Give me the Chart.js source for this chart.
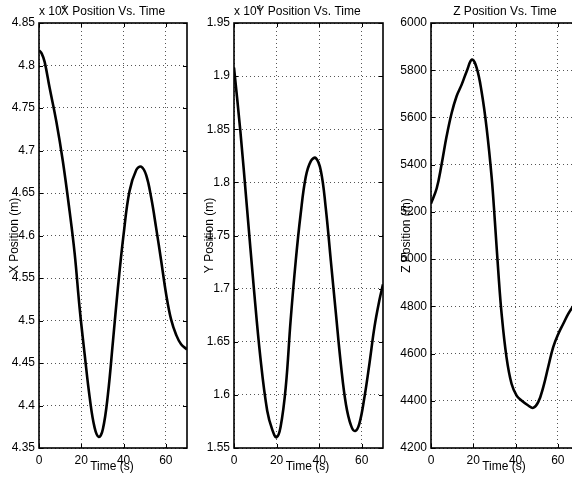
<!DOCTYPE html>
<html><head><meta charset="utf-8">
<script src="https://cdn.jsdelivr.net/npm/chart.js@4/dist/chart.umd.min.js"></script>
<style>
html,body{margin:0;padding:0;background:#fff;overflow:hidden;width:572px;height:477px;position:relative;}
.p{position:absolute;top:0;width:190px;height:477px;}
canvas{display:block;}
</style></head><body>
<div class="p" style="left:0px"><canvas id="c1" width="190" height="477"></canvas></div>
<div class="p" style="left:195px"><canvas id="c2" width="190" height="477"></canvas></div>
<div class="p" style="left:392px"><canvas id="c3" width="190" height="477"></canvas></div>
<script>
// ---- data ----
const xTimes = [0, 1.3, 2.7, 5, 8.2, 11.3, 14.5, 16.9, 19.2, 21.6, 24, 26.3, 28.3, 30.2, 32.6, 35, 37.3, 40, 42.8, 46, 48.3, 50.7, 53.1, 55.4, 57.8, 60.2, 62.5, 64.9, 67.2, 70];
const xPositions = [48180, 48140, 48040, 47740, 47340, 46870, 46280, 45780, 45150, 44600, 44090, 43740, 43630, 43720, 44130, 44760, 45380, 46010, 46520, 46770, 46810, 46710, 46440, 46090, 45700, 45300, 45010, 44830, 44720, 44660];

const yTimes = [0, 3, 6.1, 9.3, 12.4, 15.6, 18, 20, 21.9, 24.3, 26.6, 29, 31.3, 33.7, 36.1, 38.4, 40.8, 43.1, 45.5, 47.9, 50.2, 52.6, 55, 56.9, 58.9, 61.3, 63.6, 66, 68.3, 70];
const yPositions = [19080, 18480, 17760, 17010, 16350, 15850, 15670, 15600, 15700, 16070, 16700, 17260, 17700, 18050, 18200, 18230, 18110, 17760, 17260, 16760, 16290, 15910, 15710, 15660, 15730, 15980, 16290, 16640, 16890, 17040];

const zTimes = [0, 2.7, 5, 7.4, 9.8, 12.1, 14.5, 16.9, 19.4, 21.6, 23.9, 26.3, 28.7, 30.2, 31.8, 33.4, 35.7, 38.1, 40.5, 42.8, 46, 48.3, 50.7, 53.1, 55.4, 57.8, 60.2, 62.5, 64.9, 67.2, 70];
const zPositions = [5235, 5300, 5401, 5521, 5620, 5690, 5739, 5796, 5845, 5810, 5711, 5556, 5345, 5162, 4951, 4768, 4585, 4472, 4422, 4401, 4380, 4370, 4394, 4458, 4542, 4627, 4683, 4725, 4768, 4800, 4835];

const timeRange = [0, 70];
const timeStep = 20;
const xRange = [43500, 48500];
const yRange = [15500, 19500];
const zRange = [4200, 6000];
const titles = ['X Position Vs. Time', 'Y Position Vs. Time', 'Z Position Vs. Time'];
const yLabels = ['X Position (m)', 'Y Position (m)', 'Z Position (m)'];
const xLabel = 'Time (s)';
const exponentBase = 'x 10';
const exponentPower = '4';

const FONT = '"Liberation Sans", Arial, Helvetica, sans-serif';

const decorPlugin = {
  id: 'decor',
  afterDraw(chart, args, opts) {
    const ctx = chart.ctx, ca = chart.chartArea;
    const xs = chart.scales.x, ys = chart.scales.y;
    ctx.save();
    ctx.strokeStyle = '#000';
    ctx.lineWidth = 1;
    ctx.beginPath();
    xs.ticks.forEach(t => {
      const px = Math.round(xs.getPixelForValue(t.value)) + 0.5;
      ctx.moveTo(px, ca.bottom); ctx.lineTo(px, ca.bottom - 4);
      ctx.moveTo(px, ca.top); ctx.lineTo(px, ca.top + 4);
    });
    ys.ticks.forEach(t => {
      const py = Math.round(ys.getPixelForValue(t.value)) + 0.5;
      ctx.moveTo(ca.left, py); ctx.lineTo(ca.left + 4, py);
      ctx.moveTo(ca.right, py); ctx.lineTo(ca.right - 4, py);
    });
    ctx.stroke();
    ctx.lineWidth = 1.6;
    ctx.strokeRect(ca.left, ca.top, ca.right - ca.left, ca.bottom - ca.top);

    ctx.fillStyle = '#000';
    ctx.font = '12px ' + FONT;
    ctx.textBaseline = 'alphabetic';
    ctx.textAlign = 'center';
    const cx = (ca.left + ca.right) / 2;
    ctx.fillText(opts.title, cx, 15);
    ctx.fillText(xLabel, cx - 1, 470);
    if (opts.exponent) {
      ctx.textAlign = 'left';
      ctx.fillText(exponentBase, ca.left, 15);
      const w = ctx.measureText(exponentBase).width;
      ctx.font = '8px ' + FONT;
      ctx.fillText(exponentPower, ca.left + w, 10);
      ctx.font = '12px ' + FONT;
    }
    ctx.translate(15, (ca.top + ca.bottom) / 2);
    ctx.rotate(-Math.PI / 2);
    ctx.textAlign = 'center';
    ctx.textBaseline = 'middle';
    ctx.fillText(opts.ylabel, 0, 0);
    ctx.restore();
  }
};

function makeChart(id, times, values, range, step, fmt, idx, exponent, padRight) {
  const pts = times.map((t, i) => ({x: t, y: values[i]}));
  return new Chart(document.getElementById(id), {
    type: 'line',
    data: { datasets: [{
      data: pts,
      borderColor: '#000',
      borderWidth: 2.6,
      pointRadius: 0,
      fill: false,
      tension: 0.4
    }]},
    options: {
      responsive: false,
      animation: false,
      events: [],
      layout: { padding: { left: 0, right: padRight, top: 23, bottom: 0 } },
      plugins: {
        legend: { display: false },
        tooltip: { enabled: false },
        title: { display: false },
        decor: { title: titles[idx], ylabel: yLabels[idx], exponent: exponent }
      },
      scales: {
        x: {
          type: 'linear',
          min: timeRange[0], max: timeRange[1],
          ticks: { stepSize: timeStep, includeBounds: false, padding: 5, color: '#000',
                   font: { size: 12, family: FONT }, maxRotation: 0, autoSkip: false },
          grid: { color: '#555', lineWidth: 1, drawTicks: false },
          border: { display: false, dash: [1, 3] },
          afterFit: s => { s.height = 29; }
        },
        y: {
          type: 'linear',
          min: range[0], max: range[1],
          ticks: { stepSize: step, padding: 4, color: '#000', autoSkip: false,
                   font: { size: 12, family: FONT }, callback: fmt },
          grid: { color: '#555', lineWidth: 1, drawTicks: false },
          border: { display: false, dash: [1, 3] },
          afterFit: s => { s.width = 39; }
        }
      }
    },
    plugins: [decorPlugin]
  });
}

const fmt4 = v => String(+(v / 1e4).toFixed(2));
const fmtInt = v => String(v);

makeChart('c1', xTimes, xPositions, xRange, 500, fmt4, 0, true, 3);
makeChart('c2', yTimes, yPositions, yRange, 500, fmt4, 1, true, 2);
makeChart('c3', zTimes, zPositions, zRange, 200, fmtInt, 2, false, 3);
</script>
</body></html>
